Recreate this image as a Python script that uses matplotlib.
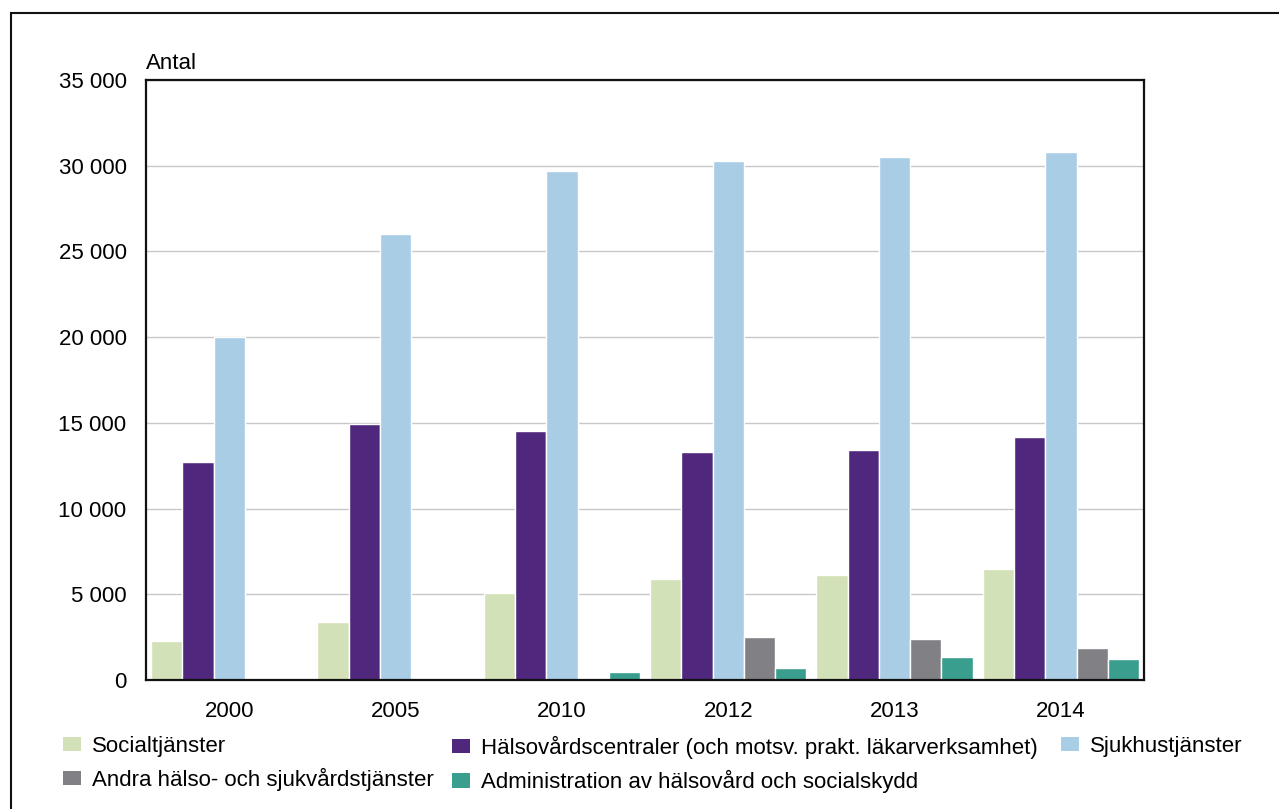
import numpy as np
import matplotlib.pyplot as plt
from matplotlib.patches import Rectangle
from matplotlib.ticker import FuncFormatter, MultipleLocator

plt.rcParams['font.family'] = ['Liberation Sans', 'DejaVu Sans']

years = ['2000', '2005', '2010', '2012', '2013', '2014']
series_names = [
    'Socialtjänster',
    'Hälsovårdscentraler (och motsv. prakt. läkarverksamhet)',
    'Sjukhustjänster',
    'Andra hälso- och sjukvårdstjänster',
    'Administration av hälsovård och socialskydd',
]
socialtjanster = [2300, 3400, 5100, 5900, 6100, 6500]
halsovardscentraler = [12700, 14950, 14500, 13300, 13400, 14200]
sjukhustjanster = [20000, 26000, 29700, 30300, 30500, 30800]
andra_tjanster = [0, 0, 0, 2500, 2400, 1850]
administration = [0, 0, 450, 700, 1350, 1200]
colors = ['#d3e1b8', '#4f287d', '#a9cde5', '#818085', '#3a9e8e']

values = [socialtjanster, halsovardscentraler, sjukhustjanster,
          andra_tjanster, administration]

fs = 16

fig = plt.figure(figsize=(12.79, 8.09), dpi=100)
ax = fig.add_axes([0.1142, 0.1595, 0.7803, 0.7417])

x = np.arange(len(years))
w = 0.188
handles = []
for i, (vals, col) in enumerate(zip(values, colors)):
    b = ax.bar(x + (i - 2) * w, vals, width=w, color=col,
               edgecolor='white', linewidth=1, zorder=2)
    handles.append(b)

ax.set_xlim(-0.5, len(years) - 0.5)
ax.set_ylim(0, 35000)
ax.yaxis.set_major_locator(MultipleLocator(5000))
ax.yaxis.set_major_formatter(FuncFormatter(lambda v, p: f'{int(v):,}'.replace(',', ' ')))
ax.set_xticks(x)
ax.set_xticklabels(years)
ax.tick_params(axis='both', length=0, labelsize=fs)
ax.tick_params(axis='y', pad=14)
ax.tick_params(axis='x', pad=15)
ax.grid(axis='y', color='#c8c8c8', linewidth=1, zorder=0)
ax.set_axisbelow(True)
for s in ax.spines.values():
    s.set_linewidth(1.6)
    s.set_color('#111111')

ax.text(0.0, 1.01, 'Antal', transform=ax.transAxes, fontsize=fs,
        ha='left', va='bottom')

# legend in three columns
leg_kw = dict(frameon=False, fontsize=fs, handlelength=0.81, handleheight=0.6,
              handletextpad=0.5, labelspacing=0.5, borderpad=0, borderaxespad=0,
              loc='upper left')
cols = [[0, 3], [1, 4], [2]]
xpos = [63, 452, 1061]
for c, xp in zip(cols, xpos):
    leg = fig.legend([handles[k] for k in c], [series_names[k] for k in c],
                     bbox_to_anchor=(xp / 1279, 1 - 736 / 809), **leg_kw)
    for p in leg.get_patches():
        p.set_edgecolor('none')

# outer frame (cut off at right and bottom)
fig.patches.append(Rectangle((11 / 1279, -0.5), 2, 1.5 - 13 / 809,
                             transform=fig.transFigure, fill=False,
                             edgecolor='#111111', linewidth=1.5))

fig.savefig('out.png', dpi=100)
